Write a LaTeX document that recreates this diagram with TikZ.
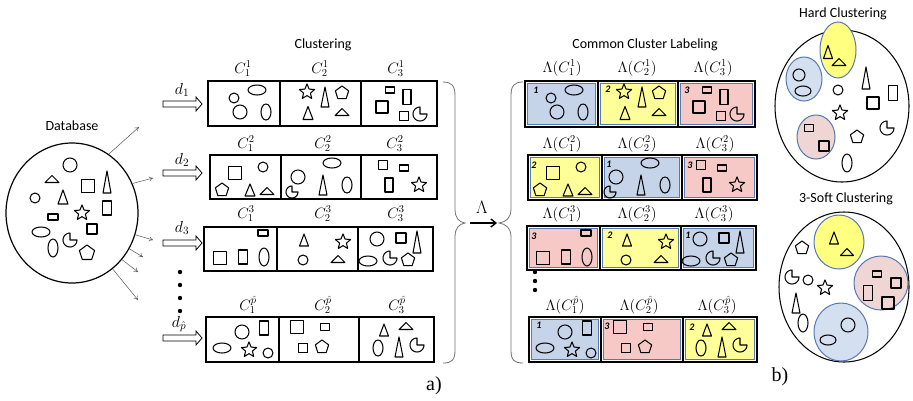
\RequirePackage{fix-cm}
\documentclass[tikz,border=0pt]{standalone}
\usepackage{fontspec}
\newfontfamily\carl{Carlito}
\newfontfamily\tnr{Liberation Serif}
\usetikzlibrary{arrows.meta,shapes.geometric}

\definecolor{cblue}{HTML}{C6D4E9}
\definecolor{cyel}{HTML}{FFFF99}
\definecolor{cpink}{HTML}{F6C9C7}
\definecolor{cedge}{HTML}{5679B4}
\definecolor{hblue}{HTML}{D4DFEF}
\definecolor{hyel}{HTML}{FFFF80}
\definecolor{hpink}{HTML}{EFD5D4}

\tikzset{
  shp/.style={draw=black, line width=1.05pt, line join=round},
  frame/.style={draw=black, line width=1.3pt},
  cellbox/.style={draw=cedge, line width=1.1pt},
  grp/.style={draw=cedge, line width=1pt},
  ray/.style={draw=black!65, line width=0.5pt, -{To[length=4pt,width=5pt]}},
  barr/.style={draw=black, line width=0.8pt, fill=white},
  brc/.style={draw=black!55, line width=0.8pt},
  ttl/.style={font=\carl\fontsize{14}{16}\selectfont, inner sep=0pt},
  mlab/.style={font=\fontsize{15}{17}\selectfont, inner sep=0pt},
  dlab/.style={font=\fontsize{16}{18}\selectfont, inner sep=0pt},
  num/.style={font=\carl\bfseries\itshape\fontsize{10}{12}\selectfont, inner sep=0pt},
  tag/.style={font=\tnr\fontsize{20}{22}\selectfont, inner sep=0pt},
}

% basic glyphs (x, y, size parameters)
\newcommand\Circ[3]{\draw[shp] (#1,#2) circle[radius=#3];}
\newcommand\Ell[4]{\draw[shp] (#1,#2) ellipse[x radius=#3, y radius=#4];}
\newcommand\Rct[4]{\draw[shp] ({#1-#3/2},{#2-#4/2}) rectangle ({#1+#3/2},{#2+#4/2});}
\newcommand\Sq[3]{\Rct{#1}{#2}{#3}{#3}}
\newcommand\Tri[4]{\draw[shp] ({#1-#3/2},{#2+#4/2}) -- (#1,{#2-#4/2}) -- ({#1+#3/2},{#2+#4/2}) -- cycle;}
\newcommand\Star[3]{\draw[shp] plot[samples at={0,...,9}, variable=\k]
  ({#1+#3*(1-0.55*mod(\k,2))*cos(90+36*\k)},{#2-#3*(1-0.55*mod(\k,2))*sin(90+36*\k)}) -- cycle;}
\newcommand\Pent[3]{\draw[shp] plot[samples at={0,...,4}, variable=\k]
  ({#1+#3*cos(90+72*\k)},{#2-#3*sin(90+72*\k)}) -- cycle;}
\newcommand\Pac[3]{\draw[shp] (#1,#2) -- plot[domain=90:360, samples=25, variable=\t]
  ({#1+#3*cos(\t)},{#2-#3*sin(\t)}) -- cycle;}

% hollow block arrow ending at x=202
\newcommand\BArr[1]{\draw[barr] (163,{#1-3}) -- (196,{#1-3}) -- (196,{#1-7}) -- (202,#1)
  -- (196,{#1+7}) -- (196,{#1+3}) -- (163,{#1+3}) -- cycle;}

% plain row frame: x0 x1 x2 x3 y0 y1
\newcommand\Frame[6]{\draw[frame] (#1,#5) rectangle (#4,#6);
  \draw[frame] (#2,#5) -- (#2,#6) (#3,#5) -- (#3,#6);}
% coloured row frame: x0 x1 x2 x3 y0 y1 c1 c2 c3
\newcommand\CFrame[9]{%
  \draw[cellbox, fill=#7] ({#1+2.5},{#5+2.5}) rectangle ({#2-2.5},{#6-2.5});
  \draw[cellbox, fill=#8] ({#2+2.5},{#5+2.5}) rectangle ({#3-2.5},{#6-2.5});
  \draw[cellbox, fill=#9] ({#3+2.5},{#5+2.5}) rectangle ({#4-2.5},{#6-2.5});
  \Frame{#1}{#2}{#3}{#4}{#5}{#6}}

% cluster contents of each partition
\newcommand\RowOne{%
  \Circ{234}{98}{5} \Ell{257}{90}{9}{5} \Circ{240}{112}{7} \Ell{266}{112}{5}{8}
  \Star{307}{92}{8} \Tri{325}{97}{8}{20} \Pent{342}{93}{7} \Tri{308}{113}{10}{13} \Tri{342}{112}{14}{7}
  \Rct{390}{90}{9}{6} \Rct{407}{97}{8}{15} \Sq{382}{107}{12} \Sq{404}{116}{9} \Pac{420}{114}{7}}
\newcommand\RowTwo{%
  \Pent{222}{190}{7} \Sq{235}{173}{13} \Circ{263}{167}{5} \Tri{250}{190}{10}{12} \Tri{267}{191}{14}{7}
  \Circ{298}{177}{7} \Pac{292}{192}{6} \Ell{332}{163}{9}{5} \Tri{323}{185}{8}{20} \Ell{347}{185}{5}{8}
  \Sq{383}{165}{9} \Rct{404}{168}{9}{6} \Rct{389}{185}{8}{14} \Star{419}{185}{8}}
\newcommand\RowThree{%
  \Rct{263}{233}{10}{6} \Sq{220}{258}{13} \Rct{243}{257}{9}{14} \Ell{264}{257}{5}{9}
  \Tri{304}{240}{9}{12} \Star{343}{242}{8} \Circ{303}{260}{5} \Tri{338}{259}{14}{7}
  \Circ{377}{239}{7} \Sq{401}{238}{10} \Tri{417}{242}{8}{22} \Ell{368}{261}{9}{5} \Pac{390}{258}{7} \Pent{408}{260}{7}}
\newcommand\RowFour{%
  \Circ{242}{332}{7} \Rct{264}{328}{9}{14} \Ell{222}{348}{9}{5} \Star{249}{350}{8} \Circ{268}{353}{5}
  \Sq{297}{327}{13} \Rct{325}{327}{9}{7} \Sq{303}{348}{9} \Pent{322}{347}{7}
  \Tri{384}{330}{9}{12} \Tri{406}{326}{14}{7} \Ell{378}{348}{5}{8} \Tri{399}{347}{8}{20} \Pac{417}{345}{7}}

\begin{document}
\begin{tikzpicture}[x=1pt, y=-1pt]
\useasboundingbox[fill=white] (0,0) rectangle (913,400);

% ---------------- database ----------------
\node[ttl] (tDb) at (72,126) {Database};
\node[draw, ellipse, line width=1.2pt, minimum width=132pt, minimum height=140pt, inner sep=0pt] (db) at (72,213) {};
\Circ{70}{165}{7} \Tri{52}{179}{14}{7} \Tri{63}{197}{10}{14} \Circ{35}{198}{5}
\Sq{88}{186}{13} \Tri{107}{182}{8}{22} \Rct{53}{217}{10}{6} \Star{82}{213}{8}
\Rct{107}{208}{9}{14} \Ell{41}{232}{9}{5} \Sq{92}{229}{10} \Pac{70}{240}{7}
\Ell{53}{248}{5}{9} \Pent{87}{253}{8}

\coordinate (e1) at (139,127);
\coordinate (e2) at (153,178);
\coordinate (e3) at (153,240);
\coordinate (e4) at (143,257);
\coordinate (e5) at (138,272);
\coordinate (e6) at (138,300);
\draw[ray] (db.58) -- (e1);
\draw[ray] (db.26) -- (e2);
\draw[ray] (db.-19) -- (e3);
\draw[ray] (db.-32) -- (e4);
\draw[ray] (db.-43) -- (e5);
\draw[ray] (db.-54) -- (e6);

% ---------------- clustering ----------------
\node[ttl] (tCl) at (323,45) {Clustering};

\BArr{104} \BArr{173} \BArr{243} \BArr{338}
\node[dlab] (d1) at (182,90) {$d_1$};
\node[dlab] (d2) at (182,160) {$d_2$};
\node[dlab] (d3) at (182,228) {$d_3$};
\node[dlab] (dp) at (179,324) {$d_{\hat{p}}$};
\foreach \yy in {272,285,298,311} \fill (180,\yy) circle[radius=2.2];

\Frame{208}{280}{361}{437}{81}{126}
\Frame{210}{281}{361}{437}{155}{199}
\Frame{204}{277}{358}{433}{227}{271}
\Frame{206}{279}{359}{434}{317}{362}
\RowOne \RowTwo \RowThree \RowFour

\node[mlab] (c11) at (243,69) {$C_1^1$};
\node[mlab] (c12) at (320,69) {$C_2^1$};
\node[mlab] (c13) at (396,69) {$C_3^1$};
\node[mlab] (c21) at (246,144) {$C_1^2$};
\node[mlab] (c22) at (323,144) {$C_2^2$};
\node[mlab] (c23) at (395,144) {$C_3^2$};
\node[mlab] (c31) at (246,214) {$C_1^3$};
\node[mlab] (c32) at (323,214) {$C_2^3$};
\node[mlab] (c33) at (396,214) {$C_3^3$};
\node[mlab] (c41) at (248,305) {$C_1^{\hat{p}}$};
\node[mlab] (c42) at (323,305) {$C_2^{\hat{p}}$};
\node[mlab] (c43) at (397,305) {$C_3^{\hat{p}}$};

% ---------------- braces and relabelling map ----------------
\draw[brc] (443,82) .. controls (452,82) and (455,86) .. (455,96) -- (455,209)
  .. controls (455,218) and (459,222) .. (465,223) .. controls (459,224) and (455,228) .. (455,237)
  -- (455,350) .. controls (455,360) and (452,363) .. (443,363);
\draw[brc] (523,82) .. controls (514,82) and (511,86) .. (511,96) -- (511,209)
  .. controls (511,218) and (506,222) .. (499,223) .. controls (506,224) and (511,228) .. (511,237)
  -- (511,350) .. controls (511,360) and (514,363) .. (523,363);
\coordinate (lamA) at (470,223);
\coordinate (lamB) at (497,223);
\draw[line width=1.4pt, -{Straight Barb[length=5pt,width=8pt]}] (lamA) -- (lamB);
\node[inner sep=0pt, font=\fontsize{18}{20}\selectfont] (lam) at (482,207) {$\Lambda$};

% ---------------- common cluster labeling ----------------
\node[ttl] (tCcl) at (645,45) {Common Cluster Labeling};

\CFrame{525}{598}{678}{755}{81}{127}{cblue}{cyel}{cpink}
\CFrame{528}{602}{682}{757}{155}{200}{cyel}{cblue}{cpink}
\CFrame{527}{600}{681}{756}{226}{270}{cpink}{cyel}{cblue}
\CFrame{529}{601}{683}{757}{317}{362}{cblue}{cpink}{cyel}
\begin{scope}[shift={(317,0)}]\RowOne\end{scope}
\begin{scope}[shift={(318,0)}]\RowTwo\end{scope}
\begin{scope}[shift={(323,0)}]\RowThree\end{scope}
\begin{scope}[shift={(323,0)}]\RowFour\end{scope}

\node[num] (n11) at (536,90) {1};
\node[num] (n12) at (608,89) {2};
\node[num] (n13) at (687,90) {3};
\node[num] (n21) at (534,165) {2};
\node[num] (n22) at (609,164) {1};
\node[num] (n23) at (690,165) {3};
\node[num] (n31) at (534,236) {3};
\node[num] (n32) at (610,235) {2};
\node[num] (n33) at (688,235) {1};
\node[num] (n41) at (539,325) {1};
\node[num] (n42) at (607,326) {3};
\node[num] (n43) at (692,327) {2};
\foreach \yy in {272,281,290} \fill (535,\yy) circle[radius=2.2];

\node[mlab] (l11) at (562,68) {$\Lambda(C_1^1)$};
\node[mlab] (l12) at (637,68) {$\Lambda(C_2^1)$};
\node[mlab] (l13) at (713,68) {$\Lambda(C_3^1)$};
\node[mlab] (l21) at (562,144) {$\Lambda(C_1^2)$};
\node[mlab] (l22) at (637,144) {$\Lambda(C_2^2)$};
\node[mlab] (l23) at (715,144) {$\Lambda(C_3^2)$};
\node[mlab] (l31) at (562,214) {$\Lambda(C_1^3)$};
\node[mlab] (l32) at (637,214) {$\Lambda(C_2^3)$};
\node[mlab] (l33) at (714,214) {$\Lambda(C_3^3)$};
\node[mlab] (l41) at (565,305) {$\Lambda(C_1^{\hat{p}})$};
\node[mlab] (l42) at (639,305) {$\Lambda(C_2^{\hat{p}})$};
\node[mlab] (l43) at (717,305) {$\Lambda(C_3^{\hat{p}})$};

% ---------------- hard clustering ----------------
\node[ttl] (tHard) at (843,14) {Hard Clustering};
\draw[shp] (842,106) ellipse[x radius=67, y radius=76];
\draw[grp, fill=hblue] (804,79) ellipse[x radius=18, y radius=22];
\draw[grp, fill=hyel] (838,50) ellipse[x radius=18, y radius=28];
\draw[grp, fill=hpink] (816,137) ellipse[x radius=19, y radius=22];
\Circ{799}{75}{6} \Ell{803}{91}{8}{5}
\Tri{828}{52}{9}{13} \Tri{839}{62}{14}{7}
\Rct{809}{128}{9}{7} \Sq{824}{146}{10}
\Circ{838}{90}{5} \Star{840}{113}{8} \Tri{866}{78}{8}{22} \Rct{893}{93}{9}{15}
\Sq{873}{103}{12} \Pent{857}{137}{7} \Pac{887}{128}{7} \Ell{847}{163}{5}{9}

% ---------------- 3-soft clustering ----------------
\node[ttl] (tSoft) at (846,199) {3-Soft Clustering};
\draw[shp] (844,287) ellipse[x radius=65, y radius=75];
\draw[grp, fill=hyel] (839,242) ellipse[x radius=25, y radius=27];
\draw[grp, fill=hpink] (881,283) ellipse[x radius=27, y radius=27];
\draw[grp, fill=hblue] (841,332) ellipse[x radius=27, y radius=29];
\Tri{834}{238}{9}{12} \Tri{847}{252}{13}{7}
\Rct{877}{274}{9}{6} \Sq{896}{283}{10} \Rct{868}{293}{9}{15} \Sq{888}{303}{12}
\Circ{848}{325}{7} \Ell{828}{340}{8}{5}
\Pent{802}{248}{7} \Pac{792}{277}{7} \Circ{808}{280}{5} \Star{825}{288}{8}
\Tri{796}{303}{8}{20} \Ell{803}{323}{5}{9}

% ---------------- panel tags ----------------
\node[tag] (ta) at (434,386) {a)};
\node[tag] (tb) at (780,377) {b)};
\end{tikzpicture}
\end{document}
